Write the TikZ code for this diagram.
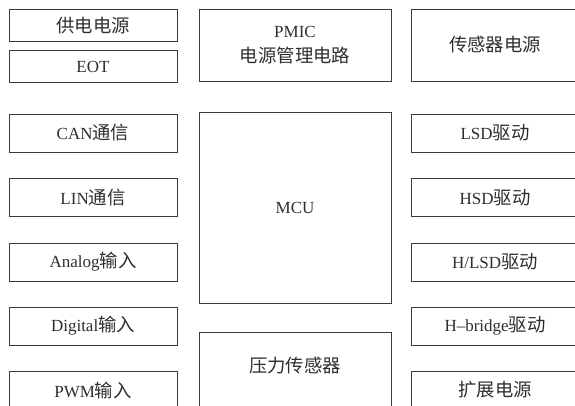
\documentclass[tikz,border=0pt]{standalone}
\usepackage{fontspec}
\setmainfont{Liberation Serif}
\newfontfamily\cjk{Noto Sans CJK SC}[Scale=1.08]
\definecolor{linec}{HTML}{3A3A3A}
\definecolor{textc}{HTML}{2E2E2E}
\begin{document}
\begin{tikzpicture}[x=1pt,y=-1pt,
  box/.style={draw=linec,line width=0.9pt,rectangle,inner sep=0pt,
    text=textc,font=\fontsize{17}{25}\selectfont,align=center},
  side/.style={box,minimum width=168pt},
]
\useasboundingbox (0,0) rectangle (575,406);
\clip (0,0) rectangle (575,406);
% left column
\node[side,minimum height=32pt] (pwr) at (93,25.5) {{\cjk 供电电源}};
\node[side,minimum height=32pt] (eot) at (93,66.5) {EOT};
\node[side,minimum height=38pt] (can) at (93,133) {CAN{\cjk 通信}};
\node[side,minimum height=38pt] (lin) at (93,197.5) {LIN{\cjk 通信}};
\node[side,minimum height=38pt] (ana) at (93,262) {Analog{\cjk 输入}};
\node[side,minimum height=38pt] (dig) at (93,326) {Digital{\cjk 输入}};
\node[side,minimum height=38pt] (pwm) at (93,390) {PWM{\cjk 输入}};
% middle column
\node[box,minimum width=192pt,minimum height=72pt] (pmic) at (295,45) {PMIC\\{\cjk 电源管理电路}};
\node[box,minimum width=192pt,minimum height=191pt] (mcu) at (295,207.5) {MCU};
\node[box,minimum width=192pt,minimum height=80pt] (press) at (295,372) {};
\node[text=textc,font=\fontsize{17}{25}\selectfont] (presst) at ([yshift=6pt]press.center) {{\cjk 压力传感器}};
% right column
\node[side,minimum height=72pt] (sens) at (495,45) {{\cjk 传感器电源}};
\node[side,minimum height=38pt] (lsd) at (495,133) {LSD{\cjk 驱动}};
\node[side,minimum height=38pt] (hsd) at (495,197.5) {HSD{\cjk 驱动}};
\node[side,minimum height=38pt] (hlsd) at (495,262) {H/LSD{\cjk 驱动}};
\node[side,minimum height=38pt] (hbr) at (495,326) {H--bridge{\cjk 驱动}};
\node[side,minimum height=38pt] (ext) at (495,390) {{\cjk 扩展电源}};
\end{tikzpicture}
\end{document}
